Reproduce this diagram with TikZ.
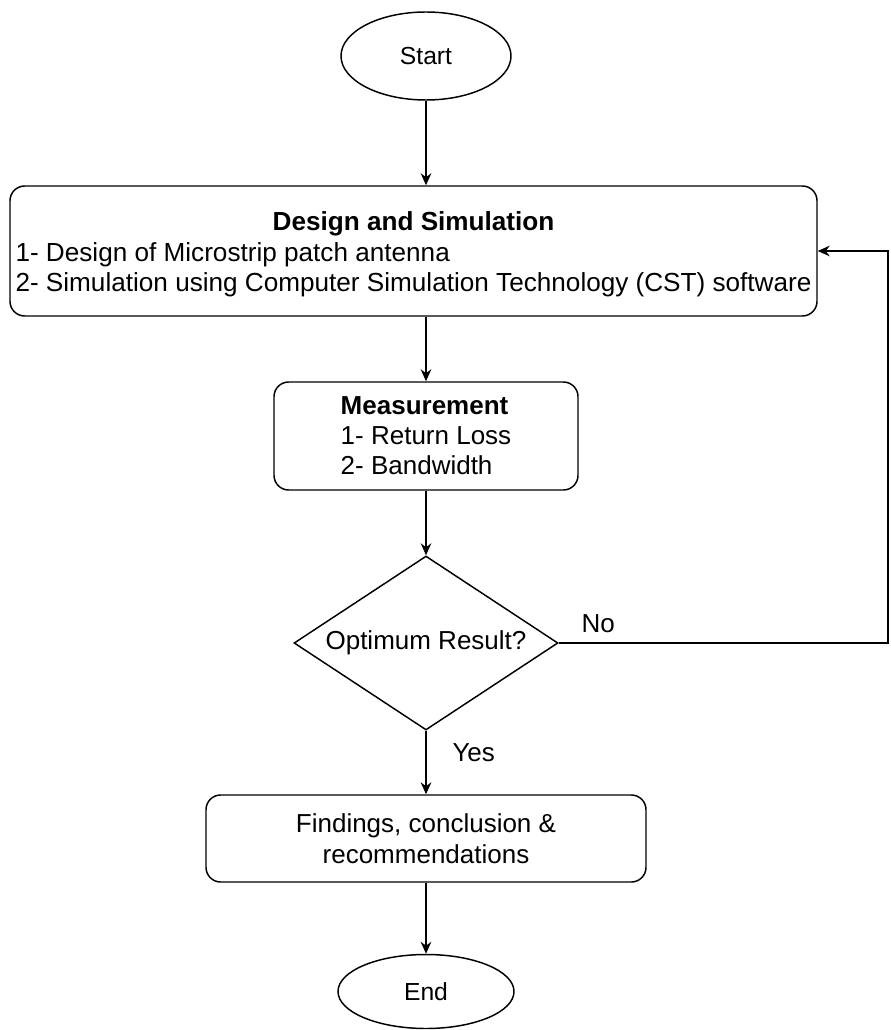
\documentclass[tikz,border=0pt]{standalone}
\usepackage{fontspec}
\setmainfont{Liberation Sans}
\usetikzlibrary{positioning}
\usetikzlibrary{shapes.geometric}
\usetikzlibrary{arrows.meta}
\tikzset{
  border/.style   = { draw=black, line width=1.1pt },
  terminal/.style = { ellipse, border, inner sep=0pt, font=\fontsize{18.5}{22.5}\selectfont },
  process/.style  = { rectangle, border, rounded corners=11pt, inner sep=2pt },
  decision/.style = { diamond, border, aspect=1.5, inner sep=0pt, minimum width=198pt, minimum height=130.5pt },
  flow/.style     = { line width=1.1pt, -{Stealth[length=9pt,width=8pt]} },
}

\begin{document}
\begin{tikzpicture}[x=0.75pt,y=-0.75pt,font=\fontsize{19.5}{22.5}\selectfont]
  \useasboundingbox (0,0) rectangle (890,1030);

  \node (start)  [terminal, minimum width=127.5pt, minimum height=66pt] at (426,56) {Start};
  \node (design) [process, inner sep=0pt, minimum width=605.25pt, minimum height=97.5pt,
                  font=\fontsize{19.6}{23}\selectfont] at (413.5,251)
    {\raisebox{-3pt}[\height][\depth]{\begin{tabular}{@{}l@{}}
       \multicolumn{1}{c}{\textbf{Design and Simulation}}\\
       1- Design of Microstrip patch antenna\\
       2- Simulation using Computer Simulation Technology (CST) software
     \end{tabular}}};
  \node (meas)   [process, align=left, minimum width=228pt, minimum height=81pt] at (426,436)
    {\textbf{Measurement}\\1- Return Loss\\2- Bandwidth};
  \node (check)  [decision] at (426,643) {Optimum Result?};
  \node (final)  [process, align=center, minimum width=330pt, minimum height=65.25pt,
                  font=\fontsize{19.5}{23.25}\selectfont] at (426,838.5)
    {Findings, conclusion \&\\recommendations};
  \node (end)    [terminal, minimum width=132pt, minimum height=55.5pt] at (426,991.5) {End};

  \coordinate (loop) at (888,643);

  \draw [flow] (start)  -- (design.north -| start);
  \draw [flow] (design.south -| meas) -- (meas);
  \draw [flow] (meas)   -- (check);
  \draw [flow] (check)  -- node [right=16pt, pos=0.35] {Yes} (final);
  \draw [flow] (final)  -- (end);
  \draw [flow] (check)  -- node [above, pos=0.12, yshift=4pt] {No} (loop) |- (design);

\end{tikzpicture}
\end{document}
